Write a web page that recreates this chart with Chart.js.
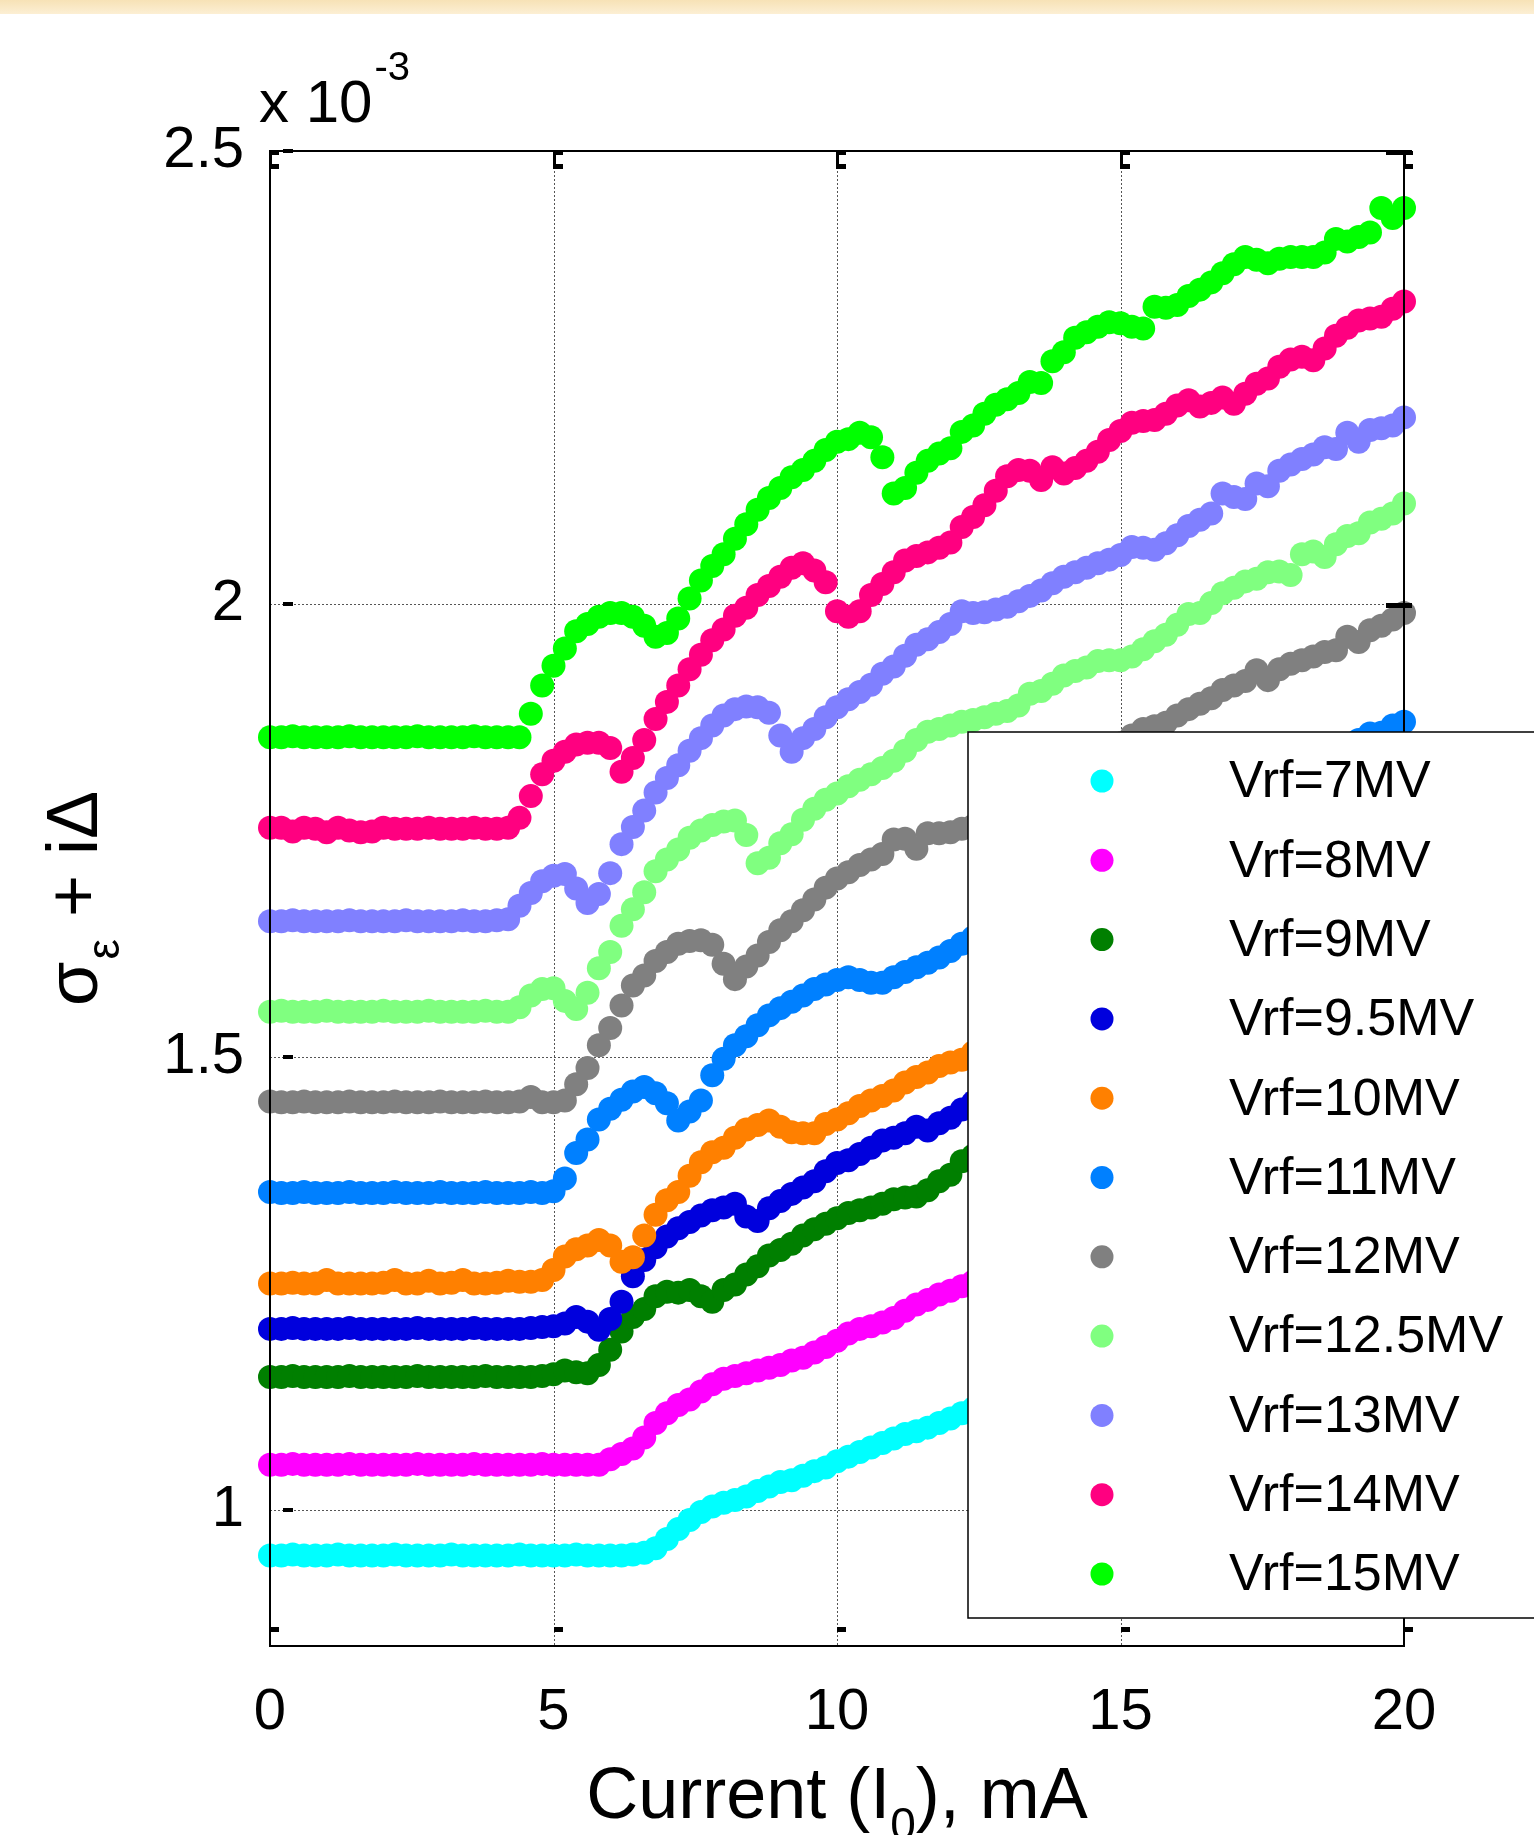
<!DOCTYPE html>
<html>
<head>
<meta charset="utf-8">
<script src="https://cdn.jsdelivr.net/npm/chart.js@4.4.0/dist/chart.umd.min.js"></script>
<style>
html, body { margin: 0; padding: 0; background: #fff; }
#wrap { position: relative; width: 1534px; height: 1835px; }
</style>
</head>
<body>
<div id="wrap"><canvas id="myChart" width="1534" height="1835"></canvas></div>
<script>
// current I0 in mA (x values, same for every curve)
var currents = [
  0,0.2,0.4,0.6,0.8,1,1.2,1.4,1.6,1.8,2,2.2,2.4,2.6,2.8,3,3.2,3.4,3.6,3.8,
  4,4.2,4.4,4.6,4.8,5,5.2,5.4,5.6,5.8,6,6.2,6.4,6.6,6.8,7,7.2,7.4,7.6,7.8,
  8,8.2,8.4,8.6,8.8,9,9.2,9.4,9.6,9.8,10,10.2,10.4,10.6,10.8,11,11.2,11.4,11.6,11.8,
  12,12.2,12.4,12.6,12.8,13,13.2,13.4,13.6,13.8,14,14.2,14.4,14.6,14.8,15,15.2,15.4,15.6,15.8,
  16,16.2,16.4,16.6,16.8,17,17.2,17.4,17.6,17.8,18,18.2,18.4,18.6,18.8,19,19.2,19.4,19.6,19.8,20
];

var labels = ['Vrf=7MV','Vrf=8MV','Vrf=9MV','Vrf=9.5MV','Vrf=10MV','Vrf=11MV','Vrf=12MV','Vrf=12.5MV','Vrf=13MV','Vrf=14MV','Vrf=15MV'];

// sigma_e + i*delta, x 10^-3
var vrf7 = [
  0.950,0.950,0.951,0.950,0.950,0.950,0.951,0.950,0.950,0.950,
  0.950,0.951,0.950,0.950,0.950,0.950,0.951,0.950,0.950,0.950,
  0.950,0.950,0.951,0.950,0.950,0.950,0.950,0.951,0.950,0.950,
  0.950,0.950,0.951,
  0.953,0.958,0.968,0.979,0.989,0.998,1.004,1.008,1.011,1.015,
  1.021,1.026,1.031,1.033,1.038,1.043,1.047,1.054,1.059,1.064,
  1.069,1.074,1.079,1.084,1.087,1.091,1.096,1.101,1.107,1.112,
  1.116,1.122,1.126,1.129,1.135,1.140,1.143,1.148,1.154,1.157,
  1.161,1.167,1.171,1.174,1.180,1.185,1.188,1.193,1.198,1.203,
  1.206,1.211,1.217,1.220,1.224,1.230,1.234,1.238,1.243,1.248,
  1.251,1.256,1.262,1.265,1.269,1.275,1.279,1.283
];
var vrf8 = [
  1.050,1.050,1.051,1.050,1.050,1.050,1.050,1.051,1.050,1.050,
  1.050,1.050,1.050,1.051,1.050,1.050,1.050,1.050,1.051,1.050,
  1.050,1.050,1.050,1.050,1.051,1.050,1.050,1.050,1.050,1.050,
  1.056,1.062,1.068,1.080,1.096,1.107,1.116,1.122,1.131,1.139,
  1.145,1.148,1.151,1.154,1.157,1.160,1.165,1.168,1.174,1.180,
  1.187,1.195,1.200,1.203,1.207,1.212,1.220,1.227,1.232,1.238,
  1.242,1.247,1.252,1.257,1.261,1.266,1.272,1.276,1.280,1.286,
  1.290,1.294,1.300,1.304,1.308,1.313,1.319,1.322,1.327,1.333,
  1.336,1.341,1.347,1.350,1.355,1.361,1.364,1.369,1.375,1.378,
  1.383,1.389,1.392,1.397,1.403,1.406,1.411,1.417,1.420,1.425,
  1.430
];
var vrf9 = [
  1.147,1.147,1.148,1.147,1.147,1.147,1.147,1.148,1.147,1.147,
  1.147,1.147,1.147,1.148,1.147,1.147,1.147,1.147,1.147,1.148,
  1.147,1.147,1.147,1.147,1.148,1.150,
  1.154,1.152,1.151,1.160,1.177,1.197,1.213,1.222,1.236,1.241,
  1.240,1.243,1.236,1.230,1.243,1.249,1.260,1.269,1.281,1.287,
  1.294,1.303,1.310,1.316,1.322,1.328,1.331,1.334,1.338,1.343,
  1.345,1.346,1.353,1.363,1.370,1.385,1.391,1.396,1.400,1.406,
  1.410,1.414,1.420,1.425,1.429,1.435,1.441,1.445,1.450,1.455,
  1.461,1.465,1.469,1.475,1.481,1.485,1.490,1.496,1.500,1.505,
  1.509,1.515,1.521,1.525,1.530,1.535,1.540,1.546,1.550,1.555,
  1.560,1.565,1.571,1.575,1.580
];
var vrf95 = [
  1.200,1.200,1.201,1.200,1.200,1.200,1.200,1.201,1.200,1.200,
  1.200,1.200,1.200,1.201,1.200,1.200,1.200,1.200,1.201,1.200,
  1.200,1.200,1.200,1.201,1.202,1.203,
  1.206,1.213,1.208,1.199,1.211,1.230,1.258,1.276,1.290,1.302,
  1.311,1.318,1.325,1.331,1.334,1.338,1.324,1.319,1.333,1.341,
  1.349,1.356,1.363,1.374,1.383,1.386,1.393,1.400,1.408,1.411,
  1.416,1.423,1.419,1.427,1.433,1.442,1.450,1.456,1.461,1.468,
  1.474,1.480,1.486,1.491,1.498,1.504,1.510,1.515,1.522,1.528,
  1.534,1.539,1.546,1.552,1.557,1.564,1.570,1.575,1.582,1.588,
  1.593,1.600,1.606,1.611,1.618,1.624,1.629,1.636,1.642,1.647,
  1.654,1.660,1.665,1.672,1.678
];
var vrf10 = [
  1.250,1.250,1.251,1.250,1.250,1.254,1.250,1.250,1.250,1.250,
  1.251,1.254,1.250,1.250,1.253,1.250,1.251,1.254,1.250,1.250,
  1.251,1.253,1.252,1.252,1.254,
  1.265,1.280,1.288,1.292,1.298,1.292,1.274,1.279,1.303,1.326,
  1.342,1.351,1.369,1.384,1.395,1.400,1.411,1.420,1.425,1.430,
  1.423,1.417,1.416,1.416,1.426,1.431,1.438,1.446,1.452,1.457,
  1.463,1.472,1.478,1.483,1.490,1.494,1.497,1.505,1.511,1.517,
  1.523,1.529,1.535,1.541,1.547,1.553,1.559,1.565,1.571,1.577,
  1.583,1.589,1.595,1.601,1.607,1.613,1.619,1.625,1.631,1.637,
  1.643,1.649,1.655,1.661,1.667,1.673,1.679,1.685,1.691,1.697,
  1.703,1.709,1.715,1.721,1.727,1.733
];
var vrf11 = [
  1.351,1.350,1.350,1.351,1.350,1.350,1.350,1.351,1.350,1.350,
  1.350,1.351,1.350,1.350,1.350,1.351,1.350,1.350,1.350,1.351,
  1.350,1.350,1.350,1.351,1.350,1.352,
  1.366,1.394,1.409,1.431,1.443,1.453,1.462,1.467,1.460,1.449,
  1.430,1.440,1.452,1.480,1.498,1.513,1.523,1.535,1.546,1.554,
  1.561,1.568,1.575,1.580,1.585,1.588,1.585,1.582,1.582,1.588,
  1.594,1.599,1.604,1.610,1.617,1.625,1.632,1.638,1.645,1.651,
  1.658,1.664,1.670,1.677,1.683,1.690,1.696,1.703,1.709,1.715,
  1.722,1.728,1.735,1.741,1.747,1.754,1.760,1.767,1.773,1.780,
  1.786,1.792,1.799,1.805,1.812,1.818,1.825,1.831,1.837,1.844,
  1.850,1.857,1.858,1.866,1.870
];
var vrf12 = [
  1.451,1.450,1.450,1.451,1.450,1.450,1.450,1.451,1.450,1.450,
  1.450,1.451,1.450,1.450,1.450,1.451,1.450,1.450,1.450,1.451,
  1.450,1.450,1.451,1.456,1.450,1.450,1.452,
  1.470,1.488,1.513,1.532,1.557,1.579,1.590,1.606,1.616,1.625,
  1.628,1.629,1.624,1.603,1.586,1.600,1.612,1.627,1.640,1.650,
  1.662,1.674,1.687,1.697,1.704,1.712,1.718,1.724,1.740,1.741,
  1.730,1.747,1.747,1.748,1.752,1.755,1.761,1.768,1.775,1.781,
  1.788,1.795,1.801,1.808,1.815,1.821,1.830,1.838,1.846,1.855,
  1.862,1.865,1.869,1.877,1.884,1.890,1.896,1.905,1.910,1.915,
  1.927,1.916,1.928,1.934,1.938,1.942,1.947,1.949,1.964,1.958,
  1.971,1.976,1.983,1.990
];
var vrf125 = [
  1.550,1.551,1.550,1.550,1.550,1.551,1.550,1.550,1.550,1.550,
  1.551,1.550,1.550,1.550,1.551,1.550,1.550,1.550,1.550,1.551,
  1.550,1.550,
  1.555,1.568,1.575,1.576,1.562,1.553,1.571,1.598,1.616,1.645,
  1.663,1.682,1.705,1.718,1.729,1.742,1.750,1.756,1.760,1.761,
  1.745,1.714,1.720,1.736,1.746,1.762,1.774,1.784,1.791,1.799,
  1.806,1.812,1.819,1.827,1.838,1.850,1.859,1.862,1.866,1.870,
  1.872,1.875,1.879,1.882,1.888,1.901,1.904,1.912,1.921,1.926,
  1.930,1.937,1.938,1.938,1.942,1.950,1.959,1.966,1.977,1.989,
  1.990,2.001,2.012,2.018,2.025,2.028,2.035,2.036,2.032,2.055,
  2.058,2.052,2.066,2.075,2.078,2.090,2.094,2.100,2.111
];
var vrf13 = [
  1.650,1.650,1.651,1.650,1.650,1.650,1.650,1.651,1.650,1.650,
  1.650,1.650,1.651,1.650,1.650,1.650,1.650,1.651,1.650,1.650,
  1.651,1.652,
  1.667,1.681,1.694,1.700,1.702,1.686,1.670,1.680,1.703,1.735,
  1.754,1.772,1.792,1.808,1.822,1.838,1.852,1.866,1.877,1.884,
  1.887,1.886,1.880,1.855,1.837,1.852,1.862,1.875,1.886,1.895,
  1.903,1.911,1.923,1.931,1.943,1.955,1.961,1.969,1.978,1.992,
  1.990,1.991,1.994,1.997,2.003,2.009,2.015,2.023,2.030,2.035,
  2.040,2.045,2.049,2.054,2.063,2.062,2.060,2.067,2.076,2.086,
  2.093,2.100,2.122,2.118,2.116,2.133,2.130,2.147,2.154,2.160,
  2.165,2.173,2.171,2.189,2.179,2.192,2.194,2.197,2.206
];
var vrf14 = [
  1.753,1.753,1.749,1.753,1.752,1.748,1.753,1.750,1.748,1.749,
  1.753,1.752,1.752,1.752,1.753,1.752,1.752,1.752,1.753,1.752,
  1.752,1.753,
  1.764,1.788,1.812,1.827,1.837,1.845,1.847,1.847,1.841,1.815,
  1.830,1.850,1.873,1.892,1.910,1.928,1.944,1.960,1.972,1.987,
  1.996,2.010,2.020,2.030,2.040,2.045,2.037,2.024,1.992,1.986,
  1.992,2.010,2.022,2.035,2.048,2.053,2.057,2.062,2.068,2.085,
  2.096,2.109,2.125,2.141,2.148,2.147,2.137,2.151,2.144,2.150,
  2.158,2.168,2.181,2.191,2.200,2.202,2.203,2.210,2.219,2.225,
  2.218,2.222,2.228,2.221,2.232,2.243,2.249,2.262,2.270,2.273,
  2.269,2.282,2.296,2.305,2.313,2.315,2.317,2.326,2.334
];
var vrf15 = [
  1.853,1.853,1.854,1.853,1.853,1.853,1.853,1.854,1.853,1.853,
  1.853,1.853,1.853,1.854,1.853,1.853,1.853,1.853,1.854,1.853,
  1.853,1.853,1.853,
  1.879,1.910,1.932,1.951,1.970,1.978,1.986,1.990,1.990,1.986,
  1.976,1.964,1.968,1.984,2.006,2.026,2.042,2.055,2.072,2.088,
  2.104,2.117,2.128,2.140,2.148,2.158,2.170,2.179,2.182,2.189,
  2.184,2.162,2.122,2.128,2.145,2.158,2.166,2.172,2.190,2.197,
  2.210,2.220,2.226,2.233,2.245,2.244,2.268,2.278,2.294,2.300,
  2.306,2.311,2.310,2.306,2.304,2.328,2.327,2.330,2.340,2.347,
  2.355,2.365,2.375,2.383,2.380,2.376,2.381,2.383,2.383,2.383,
  2.388,2.403,2.400,2.405,2.410,2.437,2.426,2.437
];

var xTicks = [0, 5, 10, 15, 20];
var yTicks = [1, 1.5, 2, 2.5];

var allSeries = [vrf7, vrf8, vrf9, vrf95, vrf10, vrf11, vrf12, vrf125, vrf13, vrf14, vrf15];
var colors = ['#00ffff','#ff00ff','#007f00','#0000dd','#ff8000','#0080ff','#808080','#80ff80','#8080ff','#ff0080','#00ff00'];

var fontFam = '"Liberation Sans", Arial, Helvetica, sans-serif';

var datasets = allSeries.map(function(vals, i) {
  return {
    label: labels[i],
    data: currents.map(function(c, k) { return {x: c, y: vals[k]}; }),
    backgroundColor: colors[i],
    borderColor: colors[i],
    pointRadius: 12,
    pointHoverRadius: 12,
    pointBorderWidth: 0,
    showLine: false,
    clip: false,
    order: allSeries.length - i
  };
});

var framePlugin = {
  id: 'frame',
  beforeDraw: function(chart) {
    var ctx = chart.ctx;
    ctx.save();
    ctx.fillStyle = '#ffffff';
    ctx.fillRect(0, 0, chart.width, chart.height);
    var g = ctx.createLinearGradient(0, 0, 0, 14);
    g.addColorStop(0, '#f7e2b6');
    g.addColorStop(1, '#fcefd4');
    ctx.fillStyle = g;
    ctx.fillRect(0, 0, chart.width, 14);
    ctx.restore();
  },
  beforeDatasetsDraw: function(chart) {
    var ctx = chart.ctx, a = chart.chartArea;
    var xs = chart.scales.x, ys = chart.scales.y;
    ctx.save();
    ctx.strokeStyle = '#555';
    ctx.lineWidth = 1;
    ctx.setLineDash([2, 2]);
    xTicks.forEach(function(v) {
      if (v === xs.min || v === xs.max) return;
      var px = Math.round(xs.getPixelForValue(v)) + 0.5;
      ctx.beginPath(); ctx.moveTo(px, a.top); ctx.lineTo(px, a.bottom); ctx.stroke();
    });
    yTicks.forEach(function(v) {
      if (v === ys.max) return;
      var py = Math.round(ys.getPixelForValue(v)) + 0.5;
      ctx.beginPath(); ctx.moveTo(a.left, py); ctx.lineTo(a.right, py); ctx.stroke();
    });
    ctx.restore();
  },
  afterDatasetsDraw: function(chart) {
    var ctx = chart.ctx, a = chart.chartArea;
    var xs = chart.scales.x, ys = chart.scales.y;
    ctx.save();
    // box
    ctx.strokeStyle = '#000';
    ctx.lineWidth = 2;
    ctx.strokeRect(a.left, a.top, a.right - a.left, a.bottom - a.top);
    // little tick marks
    ctx.fillStyle = '#000';
    xTicks.forEach(function(v) {
      var px = Math.round(xs.getPixelForValue(v));
      ctx.fillRect(px - 1, a.top, 3, 18);
      ctx.fillRect(px - 1, a.top, 10, 4);
      ctx.fillRect(px - 1, a.top + 13, 10, 5);
      ctx.fillRect(px, a.bottom - 19, 9, 5);
    });
    yTicks.forEach(function(v) {
      var py = Math.round(ys.getPixelForValue(v));
      ctx.fillRect(a.left + 13, py - 2, 10, 4);
      ctx.fillRect(a.right - 18, py - 1, 26, 5);
    });

    // legend
    var lx = 968, ly = 732, lb = 1618;
    ctx.fillStyle = '#fff';
    ctx.fillRect(lx, ly, chart.width - lx + 10, lb - ly);
    ctx.strokeStyle = '#000';
    ctx.lineWidth = 1.5;
    ctx.strokeRect(lx, ly, chart.width - lx + 10, lb - ly);
    ctx.font = '52px ' + fontFam;
    ctx.textBaseline = 'middle';
    ctx.textAlign = 'left';
    labels.forEach(function(lab, i) {
      var cy = 781 + i * 79.3;
      ctx.fillStyle = colors[i];
      ctx.beginPath(); ctx.arc(1102, cy, 11.5, 0, Math.PI * 2); ctx.fill();
      ctx.fillStyle = '#000';
      ctx.fillText(lab, 1229, cy + 2);
    });

    // x10^-3 factor
    ctx.fillStyle = '#000';
    ctx.textBaseline = 'alphabetic';
    ctx.font = '60px ' + fontFam;
    ctx.fillText('x 10', 259, 122);
    var wf = ctx.measureText('x 10').width;
    ctx.font = '40px ' + fontFam;
    ctx.fillText('-3', 259 + wf + 2, 80);

    // x title with subscript
    var cx = (a.left + a.right) / 2;
    ctx.font = '72px ' + fontFam;
    var p1 = 'Current (I', p3 = '), mA';
    var w1 = ctx.measureText(p1).width, w3 = ctx.measureText(p3).width;
    ctx.font = '46px ' + fontFam;
    var w2 = ctx.measureText('0').width;
    var x0 = cx - (w1 + w2 + w3) / 2;
    ctx.font = '72px ' + fontFam;
    ctx.fillText(p1, x0, 1818);
    ctx.font = '46px ' + fontFam;
    ctx.fillText('0', x0 + w1, 1840);
    ctx.font = '72px ' + fontFam;
    ctx.fillText(p3, x0 + w1 + w2, 1818);

    // y title, rotated
    ctx.translate(97, (a.top + a.bottom) / 2);
    ctx.rotate(-Math.PI / 2);
    ctx.font = '72px ' + fontFam;
    var s1 = ctx.measureText('\u03c3').width, s3 = ctx.measureText(' + i\u0394').width;
    ctx.font = '46px ' + fontFam;
    var s2 = ctx.measureText('\u03b5').width;
    var y0 = -(s1 + s2 + s3 + 4) / 2;
    ctx.font = '72px ' + fontFam;
    ctx.fillText('\u03c3', y0, 0);
    ctx.font = '46px ' + fontFam;
    ctx.fillText('\u03b5', y0 + s1 + 2, 22);
    ctx.font = '72px ' + fontFam;
    ctx.fillText(' + i\u0394', y0 + s1 + s2 + 4, 0);
    ctx.restore();
  }
};

var ctx = document.getElementById('myChart').getContext('2d');
var myChart = new Chart(ctx, {
  type: 'scatter',
  data: { datasets: datasets },
  options: {
    responsive: false,
    animation: false,
    events: [],
    layout: { padding: { top: 151, right: 130, left: 0, bottom: 0 } },
    plugins: { legend: { display: false }, tooltip: { enabled: false } },
    scales: {
      x: {
        type: 'linear', min: 0, max: 20,
        afterBuildTicks: function(s) { s.ticks = xTicks.map(function(v) { return {value: v}; }); },
        afterFit: function(s) { s.height = 189; },
        grid: { display: false },
        border: { display: false },
        ticks: { autoSkip: false, maxRotation: 0, color: '#000', padding: 24,
                 font: { family: fontFam, size: 58 },
                 callback: function(v) { return String(v); } }
      },
      y: {
        type: 'linear', min: 0.85, max: 2.5,
        afterBuildTicks: function(s) { s.ticks = yTicks.map(function(v) { return {value: v}; }); },
        afterFit: function(s) { s.width = 270; },
        grid: { display: false },
        border: { display: false },
        ticks: { autoSkip: false, color: '#000', padding: 18,
                 font: { family: fontFam, size: 58 },
                 callback: function(v) { return String(v); } }
      }
    }
  },
  plugins: [framePlugin]
});
</script>
</body>
</html>
